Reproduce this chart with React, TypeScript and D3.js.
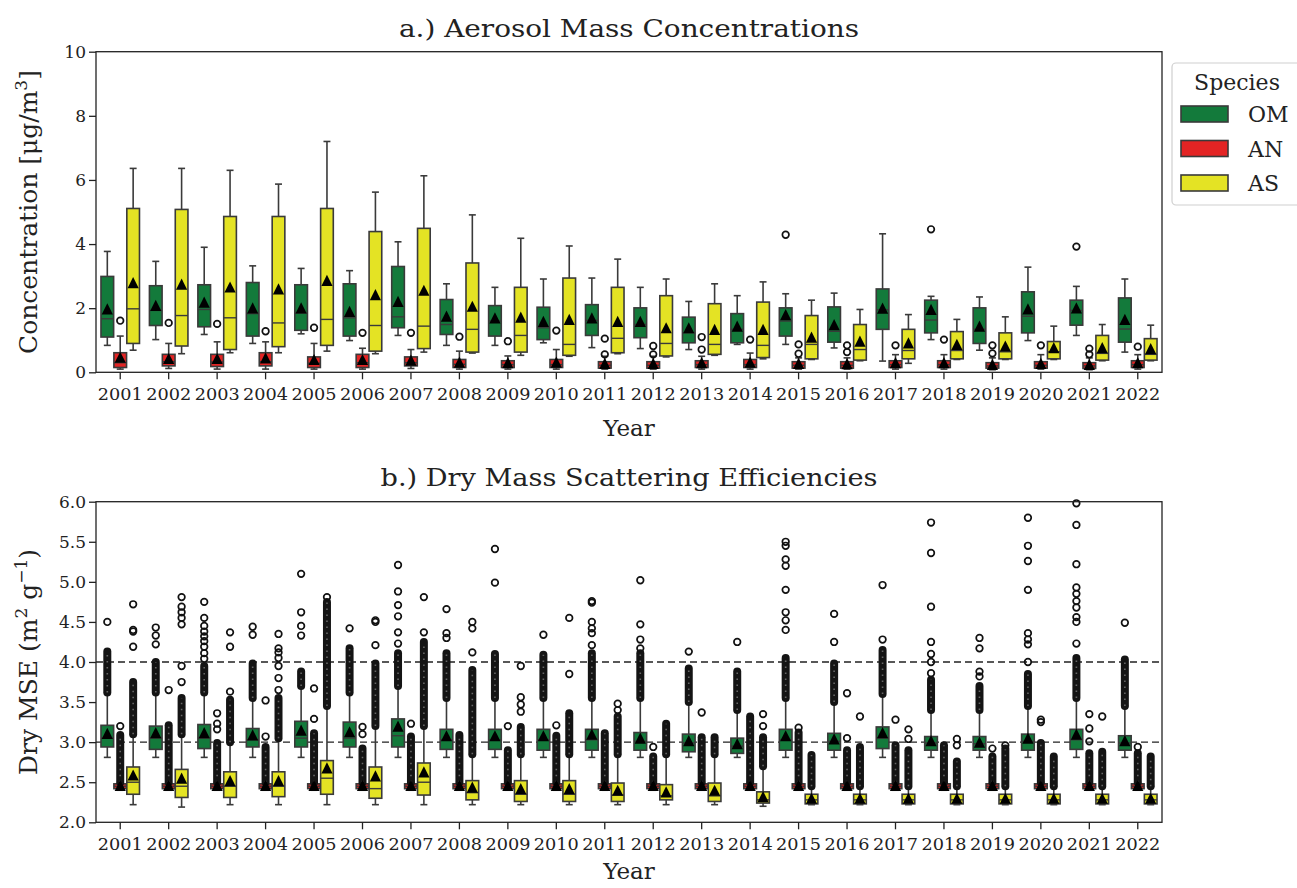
import React, { useEffect, useRef } from "react";
import * as d3 from "d3";

const years = ["2001", "2002", "2003", "2004", "2005", "2006", "2007", "2008", "2009", "2010", "2011",
  "2012", "2013", "2014", "2015", "2016", "2017", "2018", "2019", "2020", "2021", "2022"];
const species = ["OM", "AN", "AS"];
const speciesColors = ["#137a3b", "#e32424", "#e4e324"];

// box stats: [whisker low, q1, median, q3, whisker high, mean]
const omConc = [
  [0.84, 1.10, 1.67, 2.99, 3.77, 1.98], [1.02, 1.46, 1.93, 2.70, 3.46, 2.09], [1.18, 1.42, 1.96, 2.73, 3.90, 2.19],
  [0.90, 1.13, 1.83, 2.80, 3.32, 2.01], [1.20, 1.31, 1.85, 2.73, 3.24, 2.01], [0.99, 1.13, 1.70, 2.76, 3.17, 1.90],
  [1.15, 1.39, 1.73, 3.30, 4.07, 2.21], [0.84, 1.18, 1.49, 2.27, 2.76, 1.75], [0.84, 1.13, 1.60, 2.08, 2.65, 1.70],
  [0.92, 1.02, 1.39, 2.03, 2.91, 1.59], [0.77, 1.15, 1.62, 2.11, 2.94, 1.70], [0.74, 1.08, 1.49, 2.01, 2.65, 1.59],
  [0.71, 0.92, 1.23, 1.72, 2.21, 1.39], [0.87, 0.92, 1.34, 1.83, 2.39, 1.44], [0.87, 1.13, 1.60, 2.01, 2.45, 1.80],
  [0.76, 0.94, 1.28, 2.04, 2.47, 1.49], [0.35, 1.34, 1.95, 2.60, 4.32, 2.00], [1.02, 1.23, 1.63, 2.25, 2.37, 1.96],
  [0.69, 0.90, 1.34, 2.01, 2.35, 1.44], [0.99, 1.23, 1.75, 2.51, 3.28, 1.98], [1.15, 1.47, 1.93, 2.25, 2.68, 2.01],
  [0.63, 0.94, 1.35, 2.32, 2.91, 1.65],
];
const anConc = [
  [0.10, 0.15, 0.30, 0.61, 1.13, 0.47], [0.12, 0.20, 0.33, 0.56, 0.90, 0.43], [0.10, 0.18, 0.32, 0.56, 0.95, 0.43],
  [0.10, 0.20, 0.33, 0.61, 0.95, 0.45], [0.10, 0.15, 0.28, 0.48, 0.90, 0.40], [0.10, 0.15, 0.30, 0.56, 0.75, 0.40],
  [0.12, 0.20, 0.30, 0.48, 0.71, 0.38], [0.10, 0.15, 0.25, 0.40, 0.66, 0.32], [0.10, 0.15, 0.24, 0.36, 0.51, 0.30],
  [0.10, 0.15, 0.24, 0.40, 0.71, 0.32], [0.10, 0.13, 0.22, 0.33, 0.50, 0.28], [0.10, 0.13, 0.22, 0.33, 0.50, 0.28],
  [0.10, 0.15, 0.24, 0.36, 0.50, 0.30], [0.10, 0.15, 0.24, 0.40, 0.60, 0.32], [0.10, 0.13, 0.22, 0.33, 0.45, 0.28],
  [0.10, 0.13, 0.22, 0.33, 0.45, 0.27], [0.10, 0.15, 0.24, 0.36, 0.55, 0.30], [0.10, 0.15, 0.24, 0.36, 0.55, 0.30],
  [0.08, 0.13, 0.20, 0.30, 0.45, 0.25], [0.10, 0.13, 0.22, 0.33, 0.55, 0.28], [0.08, 0.12, 0.20, 0.30, 0.45, 0.25],
  [0.10, 0.15, 0.24, 0.36, 0.55, 0.30],
];
const asConc = [
  [0.69, 0.90, 1.98, 5.11, 6.36, 2.80], [0.58, 0.82, 1.77, 5.08, 6.36, 2.75], [0.61, 0.71, 1.70, 4.86, 6.30, 2.66],
  [0.61, 0.80, 1.54, 4.86, 5.87, 2.60], [0.66, 0.84, 1.65, 5.11, 7.20, 2.87], [0.58, 0.66, 1.46, 4.39, 5.62, 2.42],
  [0.63, 0.74, 1.44, 4.49, 6.13, 2.56], [0.60, 0.63, 1.34, 3.41, 4.91, 2.06], [0.53, 0.63, 1.15, 2.65, 4.18, 1.72],
  [0.50, 0.53, 0.87, 2.94, 3.94, 1.65], [0.58, 0.61, 1.06, 2.65, 3.53, 1.59], [0.48, 0.51, 0.90, 2.39, 2.91, 1.39],
  [0.53, 0.56, 0.87, 2.14, 2.76, 1.34], [0.42, 0.46, 0.84, 2.19, 2.82, 1.34], [0.40, 0.42, 0.87, 1.77, 2.25, 1.10],
  [0.36, 0.38, 0.71, 1.49, 1.96, 0.97], [0.28, 0.42, 0.68, 1.34, 1.80, 0.92], [0.40, 0.42, 0.68, 1.27, 1.65, 0.87],
  [0.40, 0.42, 0.64, 1.23, 1.73, 0.82], [0.40, 0.42, 0.64, 0.96, 1.44, 0.77], [0.36, 0.38, 0.59, 1.15, 1.49, 0.77],
  [0.36, 0.38, 0.56, 1.05, 1.47, 0.74],
];
const omConcOut = [[], [], [], [], [], [], [], [], [], [], [], [], [], [], [4.29], [], [], [4.46], [], [], [3.92], []];
const anConcOut = [[1.61], [1.54], [1.51], [1.28], [1.39], [1.23], [1.23], [1.11], [0.97], [1.30], [0.56, 1.05],
  [0.56, 0.82], [0.71, 1.10], [1.02], [0.58, 0.87], [0.63, 0.84], [0.84], [1.02], [0.59, 0.84], [0.84], [0.56, 0.74], [0.80]];
const asConcOut = years.map(() => [] as number[]);

const omMse = [
  [2.81, 2.94, 3.05, 3.21, 3.62, 3.11], [2.81, 2.91, 3.05, 3.20, 3.62, 3.12], [2.81, 2.92, 3.05, 3.22, 3.62, 3.12],
  [2.81, 2.94, 3.03, 3.17, 3.55, 3.09], [2.81, 2.94, 3.05, 3.26, 3.70, 3.15], [2.81, 2.94, 3.05, 3.25, 3.62, 3.13],
  [2.81, 2.94, 3.08, 3.29, 3.70, 3.20], [2.81, 2.91, 3.03, 3.16, 3.55, 3.08], [2.81, 2.91, 3.03, 3.16, 3.55, 3.08],
  [2.81, 2.90, 3.03, 3.16, 3.55, 3.08], [2.81, 2.90, 3.03, 3.16, 3.55, 3.10], [2.81, 2.90, 3.01, 3.12, 3.55, 3.05],
  [2.81, 2.88, 2.99, 3.10, 3.50, 3.02], [2.81, 2.86, 2.95, 3.05, 3.40, 2.98], [2.81, 2.90, 3.03, 3.16, 3.55, 3.08],
  [2.81, 2.90, 3.01, 3.11, 3.50, 3.04], [2.81, 2.92, 3.05, 3.19, 3.60, 3.12], [2.81, 2.90, 2.99, 3.07, 3.40, 3.02],
  [2.81, 2.90, 2.98, 3.07, 3.40, 3.00], [2.81, 2.90, 3.01, 3.10, 3.45, 3.05], [2.81, 2.91, 3.03, 3.16, 3.55, 3.10],
  [2.81, 2.90, 2.99, 3.08, 3.45, 3.02],
];
const anMse = years.map(() => [2.40, 2.42, 2.45, 2.48, 2.50, 2.46]);
const asMse = [
  [2.22, 2.35, 2.50, 2.69, 3.10, 2.59], [2.19, 2.31, 2.45, 2.66, 3.10, 2.55], [2.22, 2.31, 2.45, 2.63, 3.00, 2.52],
  [2.22, 2.32, 2.45, 2.63, 3.05, 2.52], [2.22, 2.35, 2.55, 2.77, 3.45, 2.68], [2.22, 2.30, 2.42, 2.69, 3.20, 2.58],
  [2.22, 2.34, 2.50, 2.74, 3.20, 2.63], [2.22, 2.28, 2.37, 2.52, 2.85, 2.44], [2.22, 2.26, 2.35, 2.52, 2.85, 2.42],
  [2.22, 2.26, 2.35, 2.52, 2.85, 2.42], [2.22, 2.26, 2.34, 2.49, 2.85, 2.40], [2.22, 2.28, 2.33, 2.47, 2.85, 2.38],
  [2.22, 2.26, 2.33, 2.49, 2.85, 2.40], [2.20, 2.24, 2.28, 2.38, 2.70, 2.32], [2.22, 2.23, 2.28, 2.35, 2.45, 2.30],
  [2.22, 2.23, 2.28, 2.35, 2.45, 2.30], [2.22, 2.23, 2.28, 2.35, 2.45, 2.30], [2.22, 2.23, 2.28, 2.35, 2.45, 2.30],
  [2.22, 2.23, 2.28, 2.35, 2.45, 2.30], [2.22, 2.23, 2.28, 2.35, 2.45, 2.30], [2.22, 2.23, 2.28, 2.35, 2.45, 2.30],
  [2.22, 2.23, 2.28, 2.35, 2.45, 2.30],
];
// ranges where the outlier circles overlap into a solid column: [low, high]
const omMseDense = [[3.62, 4.13], [3.62, 4.00], [3.62, 3.95], [3.55, 3.98], [3.70, 3.88], [3.62, 4.17], [3.70, 4.11],
  [3.55, 4.11], [3.55, 4.10], [3.55, 4.09], [3.55, 4.11], [3.55, 4.11], [3.50, 3.92], [3.40, 3.88], [3.55, 4.05],
  [3.50, 3.98], [3.60, 4.15], [3.40, 3.78], [3.40, 3.70], [3.45, 3.85], [3.55, 4.05], [3.45, 4.03]];
const anMseDense = [[2.50, 3.09], [2.50, 3.21], [2.50, 2.99], [2.50, 2.94], [2.50, 3.11], [2.50, 2.92], [2.50, 3.07],
  [2.50, 3.09], [2.50, 2.90], [2.50, 3.08], [2.50, 3.11], [2.50, 2.82], [2.50, 3.06], [2.50, 3.32], [2.50, 3.12],
  [2.50, 2.90], [2.50, 2.96], [2.50, 2.96], [2.50, 2.82], [2.50, 2.99], [2.50, 2.86], [2.50, 2.86]];
const asMseDense = [[3.10, 3.75], [3.10, 3.55], [3.00, 3.53], [3.05, 3.55], [3.45, 4.75], [3.20, 3.98], [3.20, 4.25],
  [2.85, 3.90], [2.85, 3.19], [2.85, 3.36], [2.85, 3.32], [2.85, 3.23], [2.85, 3.06], [2.70, 3.06], [2.45, 2.84],
  [2.45, 2.94], [2.45, 2.90], [2.45, 2.76], [2.45, 2.92], [2.45, 2.82], [2.45, 2.88], [2.45, 2.82]];
const omMseOut = [[4.50], [4.22, 4.33, 4.43], [4.04, 4.11, 4.19, 4.26, 4.32, 4.38, 4.45, 4.55, 4.75], [4.34, 4.44],
  [4.33, 4.45, 4.62, 5.10], [4.42], [4.23, 4.37, 4.57, 4.71, 4.88, 5.21], [4.30, 4.36, 4.66], [4.99, 5.41], [4.34],
  [4.21, 4.36, 4.42, 4.50, 4.74, 4.76], [4.17, 4.28, 4.47, 5.02], [4.13], [4.25],
  [4.40, 4.52, 4.62, 4.90, 5.20, 5.28, 5.45, 5.50], [4.25, 4.60], [4.28, 4.96], [3.86, 4.00, 4.10, 4.25, 4.69, 5.36, 5.74],
  [3.82, 3.88, 4.17, 4.30], [4.00, 4.22, 4.28, 4.36, 4.90, 5.26, 5.45, 5.80],
  [4.23, 4.50, 4.56, 4.68, 4.76, 4.85, 4.93, 5.22, 5.71, 5.98], [4.49]];
const anMseOut = [[3.20], [3.65], [3.16, 3.23, 3.36], [3.07, 3.52], [3.29, 3.67], [3.10, 3.19], [3.23], [], [3.20],
  [3.21], [], [2.94], [3.37], [], [3.18], [3.05, 3.61], [3.28], [], [2.92], [3.25, 3.28], [3.01, 3.17, 3.35], [2.94]];
const asMseOut = [[4.19, 4.38, 4.40, 4.72], [3.75, 3.95, 4.47, 4.55, 4.62, 4.69, 4.81], [3.63, 4.19, 4.37],
  [3.65, 3.80, 3.95, 4.05, 4.12, 4.17, 4.35], [4.81], [4.21, 4.50, 4.52], [4.37, 4.81], [4.12, 4.42, 4.50],
  [3.38, 3.47, 3.56, 3.95], [3.85, 4.55], [3.40, 3.48], [], [], [3.20, 3.35], [], [3.32], [3.04, 3.16], [2.96, 3.04],
  [2.96], [], [3.32], []];

const concTicks = [0, 2, 4, 6, 8, 10];
const mseTicks = [2.0, 2.5, 3.0, 3.5, 4.0, 4.5, 5.0, 5.5, 6.0];
const mseRefLines = [3.0, 4.0];

const W = 1297;
const H = 888;
const left = 96;
const right = 1162;
const font = "DejaVu Serif";
const edge = "#3a3a3a";

function App() {
  const ref = useRef<SVGSVGElement>(null);

  useEffect(() => {
    const svg = d3.select(ref.current);
    svg.selectAll("*").remove();

    const x = d3.scaleBand<string>().domain(years).range([left, right]);
    const hueStep = (x.bandwidth() * 0.8) / 3;
    const boxW = hueStep * 0.98;
    const capW = boxW * 0.55;

    const panel = (cfg: any) => {
      const y = d3.scaleLinear().domain(cfg.domain).range([cfg.bottom, cfg.top]);
      const g = svg.append("g");

      // dashed reference lines
      (cfg.refLines || []).forEach((v: number) => {
        g.append("line")
          .attr("x1", left).attr("x2", right)
          .attr("y1", y(v)).attr("y2", y(v))
          .attr("stroke", "#222").attr("stroke-width", 1.4)
          .attr("stroke-dasharray", "7,4");
      });

      species.forEach((sp, i) => {
        const stats: number[][] = cfg.stats[i];
        const cx = (j: number) => (x(years[j]) as number) + x.bandwidth() / 2 + (i - 1) * hueStep;
        const sg = g.append("g");

        stats.forEach((s, j) => {
          const [wlo, q1, med, q3, whi] = s;
          const c = cx(j);
          sg.append("line").attr("x1", c).attr("x2", c).attr("y1", y(q3)).attr("y2", y(whi))
            .attr("stroke", edge).attr("stroke-width", 1.6);
          sg.append("line").attr("x1", c).attr("x2", c).attr("y1", y(q1)).attr("y2", y(wlo))
            .attr("stroke", edge).attr("stroke-width", 1.6);
          [wlo, whi].forEach((v) => {
            sg.append("line").attr("x1", c - capW / 2).attr("x2", c + capW / 2).attr("y1", y(v)).attr("y2", y(v))
              .attr("stroke", edge).attr("stroke-width", 1.6);
          });
          sg.append("rect")
            .attr("x", c - boxW / 2).attr("y", y(q3))
            .attr("width", boxW).attr("height", Math.max(1, y(q1) - y(q3)))
            .attr("fill", speciesColors[i]).attr("stroke", edge).attr("stroke-width", 1.6);
          sg.append("line").attr("x1", c - boxW / 2).attr("x2", c + boxW / 2).attr("y1", y(med)).attr("y2", y(med))
            .attr("stroke", edge).attr("stroke-width", 1.4);
        });

        // overlapping outliers drawn as a solid column with a few light specks
        if (cfg.dense) {
          cfg.dense[i].forEach((d: number[], j: number) => {
            if (!d) return;
            sg.append("line").attr("x1", cx(j)).attr("x2", cx(j)).attr("y1", y(d[0])).attr("y2", y(d[1]))
              .attr("stroke", "#141414").attr("stroke-width", 8).attr("stroke-linecap", "round");
            sg.append("line").attr("x1", cx(j)).attr("x2", cx(j)).attr("y1", y(d[0])).attr("y2", y(d[1]))
              .attr("stroke", "#fff").attr("stroke-opacity", 0.35).attr("stroke-width", 1.6)
              .attr("stroke-dasharray", "1.5,4.5");
          });
        }

        cfg.outliers[i].forEach((arr: number[], j: number) => {
          arr.forEach((v) => {
            sg.append("circle").attr("cx", cx(j)).attr("cy", y(v)).attr("r", 3.3)
              .attr("fill", "none").attr("stroke", "#111").attr("stroke-width", 1.7);
          });
        });

        // mean markers
        stats.forEach((s, j) => {
          const c = cx(j);
          const m = y(s[5]);
          const h = 5.6;
          sg.append("path")
            .attr("d", `M${c},${m - h}L${c + h},${m + h}L${c - h},${m + h}Z`)
            .attr("fill", "#000");
        });
      });

      // frame
      g.append("rect")
        .attr("x", left).attr("y", cfg.top)
        .attr("width", right - left).attr("height", cfg.bottom - cfg.top)
        .attr("fill", "none").attr("stroke", "#222").attr("stroke-width", 1.3);

      const yAxis = g.append("g").attr("transform", `translate(${left},0)`)
        .call(d3.axisLeft(y).tickValues(cfg.ticks).tickSize(7).tickPadding(3).tickFormat(cfg.fmt));
      yAxis.select(".domain").remove();
      yAxis.selectAll("line").attr("stroke", "#222").attr("stroke-width", 1.3);
      yAxis.selectAll("text").attr("font-family", font).attr("font-size", 17).attr("fill", "#222");

      const xAxis = g.append("g").attr("transform", `translate(0,${cfg.bottom})`)
        .call(d3.axisBottom(x).tickSize(7).tickPadding(9));
      xAxis.select(".domain").remove();
      xAxis.selectAll("line").attr("stroke", "#222").attr("stroke-width", 1.3);
      xAxis.selectAll("text").attr("font-family", font).attr("font-size", 17).attr("fill", "#222")
        .attr("textLength", 45).attr("lengthAdjust", "spacingAndGlyphs");

      g.append("text")
        .attr("x", (left + right) / 2).attr("y", cfg.titleY)
        .attr("text-anchor", "middle").attr("font-family", font).attr("font-size", 24)
        .attr("textLength", cfg.titleLen).attr("lengthAdjust", "spacingAndGlyphs")
        .attr("fill", "#222").text(cfg.title);

      g.append("text")
        .attr("x", (left + right) / 2).attr("y", cfg.xLabelY)
        .attr("text-anchor", "middle").attr("font-family", font).attr("font-size", 23)
        .attr("fill", "#222").text("Year");

      const yl = g.append("text")
        .attr("transform", `translate(37,${(cfg.top + cfg.bottom) / 2}) rotate(-90)`)
        .attr("text-anchor", "middle").attr("font-family", font).attr("font-size", 25).attr("fill", "#222");
      cfg.ylabel(yl);
    };

    panel({
      top: 51.7, bottom: 372.3, domain: [0, 10], ticks: concTicks, fmt: d3.format("d"),
      stats: [omConc, anConc, asConc], outliers: [omConcOut, anConcOut, asConcOut],
      title: "a.) Aerosol Mass Concentrations", titleY: 37, titleLen: 460, xLabelY: 436,
      ylabel: (t: any) => {
        t.append("tspan").text("Concentration [μg/m");
        t.append("tspan").attr("dy", -10).attr("font-size", 17).text("3");
        t.append("tspan").attr("dy", 10).text("]");
      },
    });

    panel({
      top: 501.7, bottom: 822.3, domain: [2, 6], ticks: mseTicks, fmt: d3.format(".1f"),
      refLines: mseRefLines,
      stats: [omMse, anMse, asMse], outliers: [omMseOut, anMseOut, asMseOut],
      dense: [omMseDense, anMseDense, asMseDense],
      title: "b.) Dry Mass Scattering Efficiencies", titleY: 486, titleLen: 497, xLabelY: 879,
      ylabel: (t: any) => {
        t.append("tspan").text("Dry MSE (m");
        t.append("tspan").attr("dy", -10).attr("font-size", 17).text("2");
        t.append("tspan").attr("dy", 10).text(" g");
        t.append("tspan").attr("dy", -10).attr("font-size", 17).text("−1");
        t.append("tspan").attr("dy", 10).text(")");
      },
    });

    // legend
    const lg = svg.append("g");
    lg.append("rect").attr("x", 1172).attr("y", 63).attr("width", 150).attr("height", 142).attr("rx", 4)
      .attr("fill", "#fff").attr("stroke", "#cfcfcf").attr("stroke-width", 1.2);
    lg.append("text").attr("x", 1237).attr("y", 90).attr("text-anchor", "middle")
      .attr("font-family", font).attr("font-size", 22).attr("fill", "#222").text("Species");
    const legendY = d3.scalePoint<string>().domain(species).range([114, 183]);
    species.forEach((sp, i) => {
      const cy = legendY(sp) as number;
      lg.append("rect").attr("x", 1181).attr("y", cy - 8).attr("width", 47).attr("height", 16)
        .attr("fill", speciesColors[i]).attr("stroke", edge).attr("stroke-width", 1.6);
      lg.append("text").attr("x", 1248).attr("y", cy + 8)
        .attr("font-family", font).attr("font-size", 22).attr("fill", "#222").text(sp);
    });
  }, []);

  return (
    <svg ref={ref} width={W} height={H}
      style={{ position: "absolute", left: 0, top: 0, background: "#fff" }} />
  );
}

export default App;
